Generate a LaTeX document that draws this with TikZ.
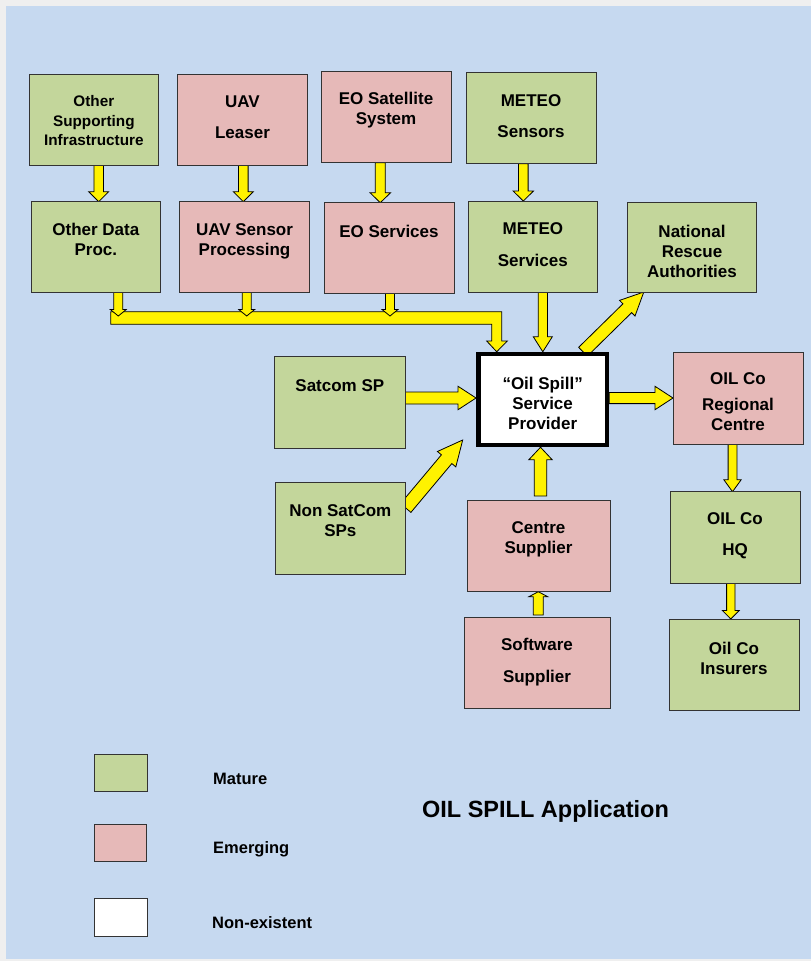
\documentclass[tikz,border=0pt]{standalone}
\usepackage{fontspec}
\setmainfont{Liberation Sans}
\usetikzlibrary{calc,fit}
\definecolor{bgblue}{HTML}{C6D9F0}
\definecolor{mgreen}{HTML}{C3D69B}
\definecolor{epink}{HTML}{E6B9B8}
\definecolor{boxline}{HTML}{333333}
\definecolor{margin}{HTML}{EFEFEF}
\pgfdeclarelayer{bglayer}
\pgfdeclarelayer{arrowlayer}
\pgfsetlayers{bglayer,arrowlayer,main}
\tikzset{
  box/.style={draw=boxline, line width=0.9pt, inner sep=0pt, outer sep=0pt},
  txt/.style={align=center, inner sep=0pt, text=black, font=\bfseries\fontsize{17}{20}\selectfont},
  smalltxt/.style={txt, font=\bfseries\fontsize{15.3}{19.5}\selectfont},
  legtxt/.style={anchor=base west, inner sep=0pt, text=black, font=\bfseries\fontsize{16.5}{20}\selectfont},
  yarrow/.style={fill=yellow, draw=black, line width=0.8pt, line join=miter},
}
% block arrow: #1 from, #2 to, #3 shaft half width, #4 head half width, #5 head length
\newcommand\blockarr[5]{%
  \filldraw[yarrow] let \p1=(#1), \p2=(#2),
    \n1={atan2(\y2-\y1,\x2-\x1)}, \n2={veclen(\x2-\x1,\y2-\y1)} in
    ($(\p1)+(\n1+90:#3pt)$)
    -- ($(\p1)+(\n1:{(\n2-#5)*1pt})+(\n1+90:#3pt)$)
    -- ($(\p1)+(\n1:{(\n2-#5)*1pt})+(\n1+90:#4pt)$)
    -- (\p2)
    -- ($(\p1)+(\n1:{(\n2-#5)*1pt})+(\n1-90:#4pt)$)
    -- ($(\p1)+(\n1:{(\n2-#5)*1pt})+(\n1-90:#3pt)$)
    -- ($(\p1)+(\n1-90:#3pt)$) -- cycle;}
\begin{document}
\begin{tikzpicture}[x=1pt,y=-1pt]
\useasboundingbox (0,0) rectangle (811,961);
\begin{pgfonlayer}{bglayer}
  \fill[margin] (0,0) rectangle (811,961);
  \fill[bgblue] (6,6) rectangle (811,959);
\end{pgfonlayer}

% ---- boxes ----
\node[box, fill=mgreen, fit={(29,74) (158.7,165.3)}] (osi) {};
\node[box, fill=epink,  fit={(177.7,74) (307.3,165)}] (uavl) {};
\node[box, fill=epink,  fit={(321,71.7) (451,162.7)}] (eosat) {};
\node[box, fill=mgreen, fit={(466,72.7) (596,163.7)}] (mets) {};
\node[box, fill=mgreen, fit={(31,201.7) (160.7,292.3)}] (odp) {};
\node[box, fill=epink,  fit={(179.7,201.7) (309.3,292.3)}] (uavs) {};
\node[box, fill=epink,  fit={(324,202.7) (454,293.3)}] (eos) {};
\node[box, fill=mgreen, fit={(468,201) (597.7,292)}] (metsv) {};
\node[box, fill=mgreen, fit={(627.3,202.7) (756.7,292)}] (nra) {};
\node[box, fill=mgreen, fit={(274.7,356.7) (405,448)}] (satcom) {};
\node[draw=black, line width=4.5pt, fill=white, inner sep=0pt, fit={(478.3,354) (607,445)}] (osp) {};
\node[box, fill=epink,  fit={(673,352.7) (803,444)}] (ocr) {};
\node[box, fill=mgreen, fit={(275,482.7) (405.7,574.3)}] (nonsat) {};
\node[box, fill=epink,  fit={(467,500.7) (610,591.7)}] (centre) {};
\node[box, fill=mgreen, fit={(670,491.7) (800,583.3)}] (hq) {};
\node[box, fill=epink,  fit={(464,617) (610,708)}] (sw) {};
\node[box, fill=mgreen, fit={(669,619) (799,710)}] (ins) {};

% ---- box texts ----
\node[smalltxt] (osi-t) at (osi.center |- 0,121) {Other\\Supporting\\Infrastructure};
\node[txt] (uavl-t) at (uavl.center |- 0,117) {UAV\\[11pt]Leaser};
\node[txt] (eosat-t) at (eosat.center |- 0,110) {EO Satellite\\System};
\node[txt] (mets-t) at (mets.center |- 0,116) {METEO\\[11.5pt]Sensors};
\node[txt] (odp-t) at (odp.center |- 0,239.5) {Other Data\\Proc.};
\node[txt] (uavs-t) at (uavs.center |- 0,241) {UAV Sensor\\Processing};
\node[txt] (eos-t) at (eos.center |- 0,231) {EO Services};
\node[txt] (metsv-t) at (metsv.center |- 0,245) {METEO\\[12pt]Services};
\node[txt] (nra-t) at (nra.center |- 0,251) {National\\Rescue\\Authorities};
\node[txt] (satcom-t) at (satcom.center |- 0,386) {Satcom SP};
\node[txt] (osp-t) at (osp.center |- 0,403.5) {“Oil Spill”\\Service\\Provider};
\node[txt] (ocr-t) at (ocr.center |- 0,401.5) {OIL Co\\[6pt]Regional\\Centre};
\node[txt] (nonsat-t) at (nonsat.center |- 0,521) {Non SatCom\\SPs};
\node[txt] (centre-t) at (centre.center |- 0,539) {Centre\\Supplier};
\node[txt] (hq-t) at (hq.center |- 0,536) {OIL Co\\[11pt]HQ};
\node[txt] (sw-t) at (sw.center |- 0,662) {Software\\[12pt]Supplier};
\node[txt] (ins-t) at (ins.center |- 0,658.5) {Oil Co\\Insurers};

% ---- legend ----
\node[box, fill=mgreen, fit={(94.5,754) (147,791)}] (lg1) {};
\node[box, fill=epink,  fit={(94,824.3) (146.5,861.7)}] (lg2) {};
\node[box, fill=white,  fit={(94.2,898.7) (147,936)}] (lg3) {};
\node[legtxt] (lg1-t) at (213,784.4) {Mature};
\node[legtxt] (lg2-t) at (213,853.8) {Emerging};
\node[legtxt] (lg3-t) at (212,928.4) {Non-existent};
\node[anchor=base, inner sep=0pt, font=\bfseries\fontsize{23.5}{27}\selectfont] (title) at (545.5,817.3) {OIL SPILL Application};

% ---- arrows ----
\coordinate (bus1) at (118.3,316);
\coordinate (bus2) at (246.7,316);
\coordinate (bus3) at (390,316);
\coordinate (nsTip) at (462.7,440);
\begin{pgfonlayer}{arrowlayer}
  % collecting bar into the service provider
  \filldraw[yarrow] (110.7,311.7) -- (501.7,311.7) -- (501.7,341) -- (507.3,341)
     -- (osp.north -| 496.7,0) -- (486.7,341) -- (491.7,341) -- (491.7,324.3)
     -- (110.7,324.3) -- cycle;
  \blockarr{odp.south -| 118.3,0}{bus1}{4.5}{8}{6.5}
  \blockarr{uavs.south -| 246.7,0}{bus2}{4.5}{8}{6.5}
  \blockarr{eos.south -| 390,0}{bus3}{4.5}{8}{6.5}
  % top rows
  \blockarr{osi.south -| 98.7,0}{odp.north -| 98.7,0}{4.8}{10}{10}
  \blockarr{uavl.south -| 243.3,0}{uavs.north -| 243.3,0}{4.8}{10}{10}
  \blockarr{eosat.south -| 380.3,0}{eos.north -| 380.3,0}{5}{10.3}{10}
  \blockarr{mets.south -| 523.3,0}{metsv.north -| 523.3,0}{4.8}{10.2}{10}
  % into / out of the service provider
  \blockarr{metsv.south -| 542.8,0}{osp.north -| 542.8,0}{4.6}{9.5}{15}
  \blockarr{osp.north -| 583,0}{$(nra.south west)+(16.5,0)$}{6.2}{11}{23}
  \blockarr{satcom.east |- 0,398}{osp.west |- 0,398}{6}{11.7}{18}
  \blockarr{nonsat.east |- 0,508}{nsTip}{6.8}{12}{25}
  \blockarr{osp.east |- 0,398}{ocr.west |- 0,398}{5.6}{11.7}{18}
  \blockarr{$(centre.north -| 540.5,0)+(0,-4.7)$}{osp.south -| 540.5,0}{6.2}{11.7}{12.5}
  \blockarr{$(sw.north -| 538.3,0)+(0,-2)$}{centre.south -| 538.3,0}{5}{9.4}{5}
  \blockarr{ocr.south -| 732.5,0}{hq.north -| 732.5,0}{4.4}{8.7}{12}
  \blockarr{hq.south -| 730.8,0}{ins.north -| 730.8,0}{4.2}{8.4}{8.5}
\end{pgfonlayer}
\end{tikzpicture}
\end{document}
